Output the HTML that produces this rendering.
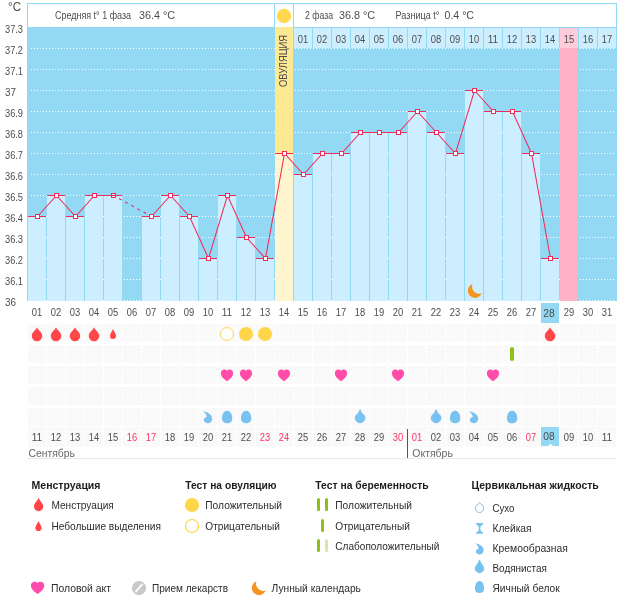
<!DOCTYPE html>
<html><head><meta charset="utf-8"><title>chart</title>
<style>
html,body{margin:0;padding:0;background:#fff;}
body{width:626px;height:595px;overflow:hidden;font-family:"Liberation Sans",sans-serif;}
svg{display:block;font-family:"Liberation Sans",sans-serif;will-change:transform;}
svg rect{shape-rendering:crispEdges;}
</style></head><body>
<svg width="626" height="595" viewBox="0 0 626 595">
<defs><pattern id="hatch" width="3" height="3" patternUnits="userSpaceOnUse"><rect width="3" height="3" fill="#fcfcfc"/><path d="M0,0 L3,3 M-1,2 L1,4 M2,-1 L4,1" stroke="#f4f4f4" stroke-width="1"/></pattern></defs>
<rect x="27" y="27" width="590" height="274" fill="#93d9f4" />
<rect x="27" y="3" width="248" height="25" fill="#93d9f4" />
<rect x="28" y="4" width="246" height="23" fill="#ffffff" />
<rect x="275" y="3" width="18" height="24" fill="#ffffff" />
<rect x="274" y="3" width="20" height="1" fill="#93d9f4" />
<rect x="293" y="3" width="324" height="25" fill="#93d9f4" />
<rect x="294" y="4" width="322" height="23" fill="#ffffff" />
<circle cx="284" cy="16" r="7.2" fill="#ffd84d"/>
<text x="55" y="19" font-size="10" fill="#4d4d4d" text-anchor="start" font-weight="normal" textLength="76" lengthAdjust="spacingAndGlyphs" >Средняя t° 1 фаза</text>
<text x="139" y="19" font-size="11" fill="#4d4d4d" text-anchor="start" font-weight="normal" textLength="36" lengthAdjust="spacingAndGlyphs" >36.4 °C</text>
<text x="305" y="19" font-size="10" fill="#4d4d4d" text-anchor="start" font-weight="normal" textLength="28" lengthAdjust="spacingAndGlyphs" >2 фаза</text>
<text x="339" y="19" font-size="11" fill="#4d4d4d" text-anchor="start" font-weight="normal" textLength="36" lengthAdjust="spacingAndGlyphs" >36.8 °C</text>
<text x="395.5" y="19" font-size="10" fill="#4d4d4d" text-anchor="start" font-weight="normal" textLength="44" lengthAdjust="spacingAndGlyphs" >Разница t°</text>
<text x="444.5" y="19" font-size="11" fill="#4d4d4d" text-anchor="start" font-weight="normal" textLength="29.5" lengthAdjust="spacingAndGlyphs" >0.4 °C</text>
<text x="8" y="11" font-size="13" fill="#4d4d4d" text-anchor="start" font-weight="normal" textLength="13" lengthAdjust="spacingAndGlyphs" >°C</text>
<text x="5" y="33" font-size="10" fill="#4d4d4d" text-anchor="start" font-weight="normal" textLength="18" lengthAdjust="spacingAndGlyphs" >37.3</text>
<text x="5" y="54" font-size="10" fill="#4d4d4d" text-anchor="start" font-weight="normal" textLength="18" lengthAdjust="spacingAndGlyphs" >37.2</text>
<text x="5" y="75" font-size="10" fill="#4d4d4d" text-anchor="start" font-weight="normal" textLength="18" lengthAdjust="spacingAndGlyphs" >37.1</text>
<text x="5" y="96" font-size="10" fill="#4d4d4d" text-anchor="start" font-weight="normal" textLength="11" lengthAdjust="spacingAndGlyphs" >37</text>
<text x="5" y="117" font-size="10" fill="#4d4d4d" text-anchor="start" font-weight="normal" textLength="18" lengthAdjust="spacingAndGlyphs" >36.9</text>
<text x="5" y="138" font-size="10" fill="#4d4d4d" text-anchor="start" font-weight="normal" textLength="18" lengthAdjust="spacingAndGlyphs" >36.8</text>
<text x="5" y="159" font-size="10" fill="#4d4d4d" text-anchor="start" font-weight="normal" textLength="18" lengthAdjust="spacingAndGlyphs" >36.7</text>
<text x="5" y="180" font-size="10" fill="#4d4d4d" text-anchor="start" font-weight="normal" textLength="18" lengthAdjust="spacingAndGlyphs" >36.6</text>
<text x="5" y="201" font-size="10" fill="#4d4d4d" text-anchor="start" font-weight="normal" textLength="18" lengthAdjust="spacingAndGlyphs" >36.5</text>
<text x="5" y="222" font-size="10" fill="#4d4d4d" text-anchor="start" font-weight="normal" textLength="18" lengthAdjust="spacingAndGlyphs" >36.4</text>
<text x="5" y="243" font-size="10" fill="#4d4d4d" text-anchor="start" font-weight="normal" textLength="18" lengthAdjust="spacingAndGlyphs" >36.3</text>
<text x="5" y="264" font-size="10" fill="#4d4d4d" text-anchor="start" font-weight="normal" textLength="18" lengthAdjust="spacingAndGlyphs" >36.2</text>
<text x="5" y="285" font-size="10" fill="#4d4d4d" text-anchor="start" font-weight="normal" textLength="18" lengthAdjust="spacingAndGlyphs" >36.1</text>
<text x="5" y="306" font-size="10" fill="#4d4d4d" text-anchor="start" font-weight="normal" textLength="11" lengthAdjust="spacingAndGlyphs" >36</text>
<line x1="31" x2="616" y1="48.5" y2="48.5" stroke="#ffffff" stroke-width="1" stroke-dasharray="1 2"/>
<line x1="31" x2="616" y1="69.5" y2="69.5" stroke="#ffffff" stroke-width="1" stroke-dasharray="1 2"/>
<line x1="31" x2="616" y1="90.5" y2="90.5" stroke="#ffffff" stroke-width="1" stroke-dasharray="1 2"/>
<line x1="31" x2="616" y1="111.5" y2="111.5" stroke="#ffffff" stroke-width="1" stroke-dasharray="1 2"/>
<line x1="31" x2="616" y1="132.5" y2="132.5" stroke="#ffffff" stroke-width="1" stroke-dasharray="1 2"/>
<line x1="31" x2="616" y1="153.5" y2="153.5" stroke="#ffffff" stroke-width="1" stroke-dasharray="1 2"/>
<line x1="31" x2="616" y1="174.5" y2="174.5" stroke="#ffffff" stroke-width="1" stroke-dasharray="1 2"/>
<line x1="31" x2="616" y1="195.5" y2="195.5" stroke="#ffffff" stroke-width="1" stroke-dasharray="1 2"/>
<line x1="31" x2="616" y1="216.5" y2="216.5" stroke="#ffffff" stroke-width="1" stroke-dasharray="1 2"/>
<line x1="31" x2="616" y1="237.5" y2="237.5" stroke="#ffffff" stroke-width="1" stroke-dasharray="1 2"/>
<line x1="31" x2="616" y1="258.5" y2="258.5" stroke="#ffffff" stroke-width="1" stroke-dasharray="1 2"/>
<line x1="31" x2="616" y1="279.5" y2="279.5" stroke="#ffffff" stroke-width="1" stroke-dasharray="1 2"/>
<line x1="31" x2="616" y1="300.5" y2="300.5" stroke="#ffffff" stroke-width="1" stroke-dasharray="1 2"/>
<rect x="275" y="27" width="18" height="274" fill="#fee993" />
<rect x="560" y="48" width="18" height="253" fill="#ffb1c8" />
<rect x="28" y="217" width="18" height="84" fill="#cdeefe" />
<rect x="47" y="196" width="18" height="105" fill="#cdeefe" />
<rect x="66" y="217" width="18" height="84" fill="#cdeefe" />
<rect x="85" y="196" width="18" height="105" fill="#cdeefe" />
<rect x="104" y="196" width="18" height="105" fill="#cdeefe" />
<rect x="142" y="217" width="18" height="84" fill="#cdeefe" />
<rect x="161" y="196" width="18" height="105" fill="#cdeefe" />
<rect x="180" y="217" width="18" height="84" fill="#cdeefe" />
<rect x="199" y="259" width="18" height="42" fill="#cdeefe" />
<rect x="218" y="196" width="18" height="105" fill="#cdeefe" />
<rect x="237" y="238" width="18" height="63" fill="#cdeefe" />
<rect x="256" y="259" width="18" height="42" fill="#cdeefe" />
<rect x="275" y="154" width="18" height="147" fill="#fff6cf" />
<rect x="294" y="175" width="18" height="126" fill="#cdeefe" />
<rect x="313" y="154" width="18" height="147" fill="#cdeefe" />
<rect x="332" y="154" width="18" height="147" fill="#cdeefe" />
<rect x="351" y="133" width="18" height="168" fill="#cdeefe" />
<rect x="370" y="133" width="18" height="168" fill="#cdeefe" />
<rect x="389" y="133" width="18" height="168" fill="#cdeefe" />
<rect x="408" y="112" width="18" height="189" fill="#cdeefe" />
<rect x="427" y="133" width="18" height="168" fill="#cdeefe" />
<rect x="446" y="154" width="18" height="147" fill="#cdeefe" />
<rect x="465" y="91" width="18" height="210" fill="#cdeefe" />
<rect x="484" y="112" width="18" height="189" fill="#cdeefe" />
<rect x="503" y="112" width="18" height="189" fill="#cdeefe" />
<rect x="522" y="154" width="18" height="147" fill="#cdeefe" />
<rect x="541" y="259" width="18" height="42" fill="#cdeefe" />
<rect x="294" y="28" width="18" height="20" fill="#cdeefe" />
<text x="303" y="43" font-size="10" fill="#4d4d4d" text-anchor="middle" font-weight="normal" textLength="10.4" lengthAdjust="spacingAndGlyphs" >01</text>
<rect x="313" y="28" width="18" height="20" fill="#cdeefe" />
<text x="322" y="43" font-size="10" fill="#4d4d4d" text-anchor="middle" font-weight="normal" textLength="10.4" lengthAdjust="spacingAndGlyphs" >02</text>
<rect x="332" y="28" width="18" height="20" fill="#cdeefe" />
<text x="341" y="43" font-size="10" fill="#4d4d4d" text-anchor="middle" font-weight="normal" textLength="10.4" lengthAdjust="spacingAndGlyphs" >03</text>
<rect x="351" y="28" width="18" height="20" fill="#cdeefe" />
<text x="360" y="43" font-size="10" fill="#4d4d4d" text-anchor="middle" font-weight="normal" textLength="10.4" lengthAdjust="spacingAndGlyphs" >04</text>
<rect x="370" y="28" width="18" height="20" fill="#cdeefe" />
<text x="379" y="43" font-size="10" fill="#4d4d4d" text-anchor="middle" font-weight="normal" textLength="10.4" lengthAdjust="spacingAndGlyphs" >05</text>
<rect x="389" y="28" width="18" height="20" fill="#cdeefe" />
<text x="398" y="43" font-size="10" fill="#4d4d4d" text-anchor="middle" font-weight="normal" textLength="10.4" lengthAdjust="spacingAndGlyphs" >06</text>
<rect x="408" y="28" width="18" height="20" fill="#cdeefe" />
<text x="417" y="43" font-size="10" fill="#4d4d4d" text-anchor="middle" font-weight="normal" textLength="10.4" lengthAdjust="spacingAndGlyphs" >07</text>
<rect x="427" y="28" width="18" height="20" fill="#cdeefe" />
<text x="436" y="43" font-size="10" fill="#4d4d4d" text-anchor="middle" font-weight="normal" textLength="10.4" lengthAdjust="spacingAndGlyphs" >08</text>
<rect x="446" y="28" width="18" height="20" fill="#cdeefe" />
<text x="455" y="43" font-size="10" fill="#4d4d4d" text-anchor="middle" font-weight="normal" textLength="10.4" lengthAdjust="spacingAndGlyphs" >09</text>
<rect x="465" y="28" width="18" height="20" fill="#cdeefe" />
<text x="474" y="43" font-size="10" fill="#4d4d4d" text-anchor="middle" font-weight="normal" textLength="10.4" lengthAdjust="spacingAndGlyphs" >10</text>
<rect x="484" y="28" width="18" height="20" fill="#cdeefe" />
<text x="493" y="43" font-size="10" fill="#4d4d4d" text-anchor="middle" font-weight="normal" textLength="10.4" lengthAdjust="spacingAndGlyphs" >11</text>
<rect x="503" y="28" width="18" height="20" fill="#cdeefe" />
<text x="512" y="43" font-size="10" fill="#4d4d4d" text-anchor="middle" font-weight="normal" textLength="10.4" lengthAdjust="spacingAndGlyphs" >12</text>
<rect x="522" y="28" width="18" height="20" fill="#cdeefe" />
<text x="531" y="43" font-size="10" fill="#4d4d4d" text-anchor="middle" font-weight="normal" textLength="10.4" lengthAdjust="spacingAndGlyphs" >13</text>
<rect x="541" y="28" width="18" height="20" fill="#cdeefe" />
<text x="550" y="43" font-size="10" fill="#4d4d4d" text-anchor="middle" font-weight="normal" textLength="10.4" lengthAdjust="spacingAndGlyphs" >14</text>
<rect x="560" y="28" width="18" height="20" fill="#ffccdc" />
<text x="569" y="43" font-size="10" fill="#4d4d4d" text-anchor="middle" font-weight="normal" textLength="10.4" lengthAdjust="spacingAndGlyphs" >15</text>
<rect x="579" y="28" width="18" height="20" fill="#cdeefe" />
<text x="588" y="43" font-size="10" fill="#4d4d4d" text-anchor="middle" font-weight="normal" textLength="10.4" lengthAdjust="spacingAndGlyphs" >16</text>
<rect x="598" y="28" width="18" height="20" fill="#cdeefe" />
<text x="607" y="43" font-size="10" fill="#4d4d4d" text-anchor="middle" font-weight="normal" textLength="10.4" lengthAdjust="spacingAndGlyphs" >17</text>
<line x1="31" x2="616" y1="48.5" y2="48.5" stroke="#ffffff" stroke-width="1" stroke-dasharray="1 2"/>
<line x1="31" x2="616" y1="69.5" y2="69.5" stroke="#ffffff" stroke-width="1" stroke-dasharray="1 2" opacity="0"/>
<line x1="31" x2="616" y1="90.5" y2="90.5" stroke="#ffffff" stroke-width="1" stroke-dasharray="1 2" opacity="0"/>
<line x1="31" x2="616" y1="111.5" y2="111.5" stroke="#ffffff" stroke-width="1" stroke-dasharray="1 2" opacity="0"/>
<line x1="31" x2="616" y1="132.5" y2="132.5" stroke="#ffffff" stroke-width="1" stroke-dasharray="1 2" opacity="0"/>
<line x1="31" x2="616" y1="153.5" y2="153.5" stroke="#ffffff" stroke-width="1" stroke-dasharray="1 2" opacity="0"/>
<line x1="31" x2="616" y1="174.5" y2="174.5" stroke="#ffffff" stroke-width="1" stroke-dasharray="1 2" opacity="0"/>
<line x1="31" x2="616" y1="195.5" y2="195.5" stroke="#ffffff" stroke-width="1" stroke-dasharray="1 2" opacity="0"/>
<line x1="31" x2="616" y1="216.5" y2="216.5" stroke="#ffffff" stroke-width="1" stroke-dasharray="1 2" opacity="0"/>
<line x1="31" x2="616" y1="237.5" y2="237.5" stroke="#ffffff" stroke-width="1" stroke-dasharray="1 2" opacity="0"/>
<line x1="31" x2="616" y1="258.5" y2="258.5" stroke="#ffffff" stroke-width="1" stroke-dasharray="1 2" opacity="0"/>
<line x1="31" x2="616" y1="279.5" y2="279.5" stroke="#ffffff" stroke-width="1" stroke-dasharray="1 2" opacity="0"/>
<line x1="31" x2="616" y1="300.5" y2="300.5" stroke="#ffffff" stroke-width="1" stroke-dasharray="1 2" opacity="0"/>
<rect x="275" y="28" width="18" height="273" fill="#fee993" />
<rect x="275" y="154" width="18" height="147" fill="#fff6cf" />
<rect x="560" y="48" width="18" height="253" fill="#ffb1c8" />
<text transform="translate(287,87) rotate(-90)" font-size="10" fill="#4d4d4d" textLength="52" lengthAdjust="spacingAndGlyphs">ОВУЛЯЦИЯ</text>
<rect x="28" y="216" width="18" height="1" fill="#f02d5a" />
<rect x="47" y="195" width="18" height="1" fill="#f02d5a" />
<rect x="66" y="216" width="18" height="1" fill="#f02d5a" />
<rect x="85" y="195" width="18" height="1" fill="#f02d5a" />
<rect x="104" y="195" width="18" height="1" fill="#f02d5a" />
<rect x="142" y="216" width="18" height="1" fill="#f02d5a" />
<rect x="161" y="195" width="18" height="1" fill="#f02d5a" />
<rect x="180" y="216" width="18" height="1" fill="#f02d5a" />
<rect x="199" y="258" width="18" height="1" fill="#f02d5a" />
<rect x="218" y="195" width="18" height="1" fill="#f02d5a" />
<rect x="237" y="237" width="18" height="1" fill="#f02d5a" />
<rect x="256" y="258" width="18" height="1" fill="#f02d5a" />
<rect x="275" y="153" width="18" height="1" fill="#f02d5a" />
<rect x="294" y="174" width="18" height="1" fill="#f02d5a" />
<rect x="313" y="153" width="18" height="1" fill="#f02d5a" />
<rect x="332" y="153" width="18" height="1" fill="#f02d5a" />
<rect x="351" y="132" width="18" height="1" fill="#f02d5a" />
<rect x="370" y="132" width="18" height="1" fill="#f02d5a" />
<rect x="389" y="132" width="18" height="1" fill="#f02d5a" />
<rect x="408" y="111" width="18" height="1" fill="#f02d5a" />
<rect x="427" y="132" width="18" height="1" fill="#f02d5a" />
<rect x="446" y="153" width="18" height="1" fill="#f02d5a" />
<rect x="465" y="90" width="18" height="1" fill="#f02d5a" />
<rect x="484" y="111" width="18" height="1" fill="#f02d5a" />
<rect x="503" y="111" width="18" height="1" fill="#f02d5a" />
<rect x="522" y="153" width="18" height="1" fill="#f02d5a" />
<rect x="541" y="258" width="18" height="1" fill="#f02d5a" />
<polyline fill="none" stroke="#f02d5a" stroke-width="1.05" points="37.5,216.5 56.5,195.5 75.5,216.5 94.5,195.5 113.5,195.5"/>
<polyline fill="none" stroke="#f02d5a" stroke-width="1.05" points="151.5,216.5 170.5,195.5 189.5,216.5 208.5,258.5 227.5,195.5 246.5,237.5 265.5,258.5 284.5,153.5 303.5,174.5 322.5,153.5 341.5,153.5 360.5,132.5 379.5,132.5 398.5,132.5 417.5,111.5 436.5,132.5 455.5,153.5 474.5,90.5 493.5,111.5 512.5,111.5 531.5,153.5 550.5,258.5"/>
<line x1="113.5" y1="195.5" x2="151.5" y2="216.5" stroke="#f02d5a" stroke-width="1.1" stroke-dasharray="3 4" stroke-dashoffset="0.7"/>
<rect x="35.5" y="214.5" width="4" height="4" fill="#fff" stroke="#f02d5a" stroke-width="1"/>
<rect x="54.5" y="193.5" width="4" height="4" fill="#fff" stroke="#f02d5a" stroke-width="1"/>
<rect x="73.5" y="214.5" width="4" height="4" fill="#fff" stroke="#f02d5a" stroke-width="1"/>
<rect x="92.5" y="193.5" width="4" height="4" fill="#fff" stroke="#f02d5a" stroke-width="1"/>
<rect x="111.5" y="193.5" width="4" height="4" fill="#d4effc" stroke="#f02d5a" stroke-width="1"/>
<rect x="112" y="195" width="3" height="1" fill="#f02d5a" />
<rect x="149.5" y="214.5" width="4" height="4" fill="#fff" stroke="#f02d5a" stroke-width="1"/>
<rect x="168.5" y="193.5" width="4" height="4" fill="#fff" stroke="#f02d5a" stroke-width="1"/>
<rect x="187.5" y="214.5" width="4" height="4" fill="#fff" stroke="#f02d5a" stroke-width="1"/>
<rect x="206.5" y="256.5" width="4" height="4" fill="#fff" stroke="#f02d5a" stroke-width="1"/>
<rect x="225.5" y="193.5" width="4" height="4" fill="#fff" stroke="#f02d5a" stroke-width="1"/>
<rect x="244.5" y="235.5" width="4" height="4" fill="#fff" stroke="#f02d5a" stroke-width="1"/>
<rect x="263.5" y="256.5" width="4" height="4" fill="#fff" stroke="#f02d5a" stroke-width="1"/>
<rect x="282.5" y="151.5" width="4" height="4" fill="#fff" stroke="#f02d5a" stroke-width="1"/>
<rect x="301.5" y="172.5" width="4" height="4" fill="#fff" stroke="#f02d5a" stroke-width="1"/>
<rect x="320.5" y="151.5" width="4" height="4" fill="#fff" stroke="#f02d5a" stroke-width="1"/>
<rect x="339.5" y="151.5" width="4" height="4" fill="#fff" stroke="#f02d5a" stroke-width="1"/>
<rect x="358.5" y="130.5" width="4" height="4" fill="#fff" stroke="#f02d5a" stroke-width="1"/>
<rect x="377.5" y="130.5" width="4" height="4" fill="#fff" stroke="#f02d5a" stroke-width="1"/>
<rect x="396.5" y="130.5" width="4" height="4" fill="#fff" stroke="#f02d5a" stroke-width="1"/>
<rect x="415.5" y="109.5" width="4" height="4" fill="#fff" stroke="#f02d5a" stroke-width="1"/>
<rect x="434.5" y="130.5" width="4" height="4" fill="#fff" stroke="#f02d5a" stroke-width="1"/>
<rect x="453.5" y="151.5" width="4" height="4" fill="#fff" stroke="#f02d5a" stroke-width="1"/>
<rect x="472.5" y="88.5" width="4" height="4" fill="#fff" stroke="#f02d5a" stroke-width="1"/>
<rect x="491.5" y="109.5" width="4" height="4" fill="#fff" stroke="#f02d5a" stroke-width="1"/>
<rect x="510.5" y="109.5" width="4" height="4" fill="#fff" stroke="#f02d5a" stroke-width="1"/>
<rect x="529.5" y="151.5" width="4" height="4" fill="#fff" stroke="#f02d5a" stroke-width="1"/>
<rect x="548.5" y="256.5" width="4" height="4" fill="#fff" stroke="#f02d5a" stroke-width="1"/>
<path transform="translate(475.05,290.75)" d="M-2.43,-6.72 A7.15,7.15 0 1 0 6.72,2.43 A7.01,7.01 0 0 1 -2.43,-6.72 Z" fill="#f7941d"/>
<text x="37" y="316" font-size="10" fill="#4d4d4d" text-anchor="middle" font-weight="normal" textLength="10.4" lengthAdjust="spacingAndGlyphs" >01</text>
<text x="56" y="316" font-size="10" fill="#4d4d4d" text-anchor="middle" font-weight="normal" textLength="10.4" lengthAdjust="spacingAndGlyphs" >02</text>
<text x="75" y="316" font-size="10" fill="#4d4d4d" text-anchor="middle" font-weight="normal" textLength="10.4" lengthAdjust="spacingAndGlyphs" >03</text>
<text x="94" y="316" font-size="10" fill="#4d4d4d" text-anchor="middle" font-weight="normal" textLength="10.4" lengthAdjust="spacingAndGlyphs" >04</text>
<text x="113" y="316" font-size="10" fill="#4d4d4d" text-anchor="middle" font-weight="normal" textLength="10.4" lengthAdjust="spacingAndGlyphs" >05</text>
<text x="132" y="316" font-size="10" fill="#4d4d4d" text-anchor="middle" font-weight="normal" textLength="10.4" lengthAdjust="spacingAndGlyphs" >06</text>
<text x="151" y="316" font-size="10" fill="#4d4d4d" text-anchor="middle" font-weight="normal" textLength="10.4" lengthAdjust="spacingAndGlyphs" >07</text>
<text x="170" y="316" font-size="10" fill="#4d4d4d" text-anchor="middle" font-weight="normal" textLength="10.4" lengthAdjust="spacingAndGlyphs" >08</text>
<text x="189" y="316" font-size="10" fill="#4d4d4d" text-anchor="middle" font-weight="normal" textLength="10.4" lengthAdjust="spacingAndGlyphs" >09</text>
<text x="208" y="316" font-size="10" fill="#4d4d4d" text-anchor="middle" font-weight="normal" textLength="10.4" lengthAdjust="spacingAndGlyphs" >10</text>
<text x="227" y="316" font-size="10" fill="#4d4d4d" text-anchor="middle" font-weight="normal" textLength="10.4" lengthAdjust="spacingAndGlyphs" >11</text>
<text x="246" y="316" font-size="10" fill="#4d4d4d" text-anchor="middle" font-weight="normal" textLength="10.4" lengthAdjust="spacingAndGlyphs" >12</text>
<text x="265" y="316" font-size="10" fill="#4d4d4d" text-anchor="middle" font-weight="normal" textLength="10.4" lengthAdjust="spacingAndGlyphs" >13</text>
<text x="284" y="316" font-size="10" fill="#4d4d4d" text-anchor="middle" font-weight="normal" textLength="10.4" lengthAdjust="spacingAndGlyphs" >14</text>
<text x="303" y="316" font-size="10" fill="#4d4d4d" text-anchor="middle" font-weight="normal" textLength="10.4" lengthAdjust="spacingAndGlyphs" >15</text>
<text x="322" y="316" font-size="10" fill="#4d4d4d" text-anchor="middle" font-weight="normal" textLength="10.4" lengthAdjust="spacingAndGlyphs" >16</text>
<text x="341" y="316" font-size="10" fill="#4d4d4d" text-anchor="middle" font-weight="normal" textLength="10.4" lengthAdjust="spacingAndGlyphs" >17</text>
<text x="360" y="316" font-size="10" fill="#4d4d4d" text-anchor="middle" font-weight="normal" textLength="10.4" lengthAdjust="spacingAndGlyphs" >18</text>
<text x="379" y="316" font-size="10" fill="#4d4d4d" text-anchor="middle" font-weight="normal" textLength="10.4" lengthAdjust="spacingAndGlyphs" >19</text>
<text x="398" y="316" font-size="10" fill="#4d4d4d" text-anchor="middle" font-weight="normal" textLength="10.4" lengthAdjust="spacingAndGlyphs" >20</text>
<text x="417" y="316" font-size="10" fill="#4d4d4d" text-anchor="middle" font-weight="normal" textLength="10.4" lengthAdjust="spacingAndGlyphs" >21</text>
<text x="436" y="316" font-size="10" fill="#4d4d4d" text-anchor="middle" font-weight="normal" textLength="10.4" lengthAdjust="spacingAndGlyphs" >22</text>
<text x="455" y="316" font-size="10" fill="#4d4d4d" text-anchor="middle" font-weight="normal" textLength="10.4" lengthAdjust="spacingAndGlyphs" >23</text>
<text x="474" y="316" font-size="10" fill="#4d4d4d" text-anchor="middle" font-weight="normal" textLength="10.4" lengthAdjust="spacingAndGlyphs" >24</text>
<text x="493" y="316" font-size="10" fill="#4d4d4d" text-anchor="middle" font-weight="normal" textLength="10.4" lengthAdjust="spacingAndGlyphs" >25</text>
<text x="512" y="316" font-size="10" fill="#4d4d4d" text-anchor="middle" font-weight="normal" textLength="10.4" lengthAdjust="spacingAndGlyphs" >26</text>
<text x="531" y="316" font-size="10" fill="#4d4d4d" text-anchor="middle" font-weight="normal" textLength="10.4" lengthAdjust="spacingAndGlyphs" >27</text>
<rect x="541" y="303" width="18" height="20" fill="#93d9f4" />
<text x="549" y="317" font-size="11" fill="#4d4d4d" text-anchor="middle" font-weight="normal" textLength="11.4" lengthAdjust="spacingAndGlyphs" >28</text>
<text x="569" y="316" font-size="10" fill="#4d4d4d" text-anchor="middle" font-weight="normal" textLength="10.4" lengthAdjust="spacingAndGlyphs" >29</text>
<text x="588" y="316" font-size="10" fill="#4d4d4d" text-anchor="middle" font-weight="normal" textLength="10.4" lengthAdjust="spacingAndGlyphs" >30</text>
<text x="607" y="316" font-size="10" fill="#4d4d4d" text-anchor="middle" font-weight="normal" textLength="10.4" lengthAdjust="spacingAndGlyphs" >31</text>
<rect x="28" y="324" width="18" height="18" fill="url(#hatch)" />
<rect x="47" y="324" width="18" height="18" fill="url(#hatch)" />
<rect x="66" y="324" width="18" height="18" fill="url(#hatch)" />
<rect x="85" y="324" width="18" height="18" fill="url(#hatch)" />
<rect x="104" y="324" width="18" height="18" fill="url(#hatch)" />
<rect x="123" y="324" width="18" height="18" fill="url(#hatch)" />
<rect x="142" y="324" width="18" height="18" fill="url(#hatch)" />
<rect x="161" y="324" width="18" height="18" fill="url(#hatch)" />
<rect x="180" y="324" width="18" height="18" fill="url(#hatch)" />
<rect x="199" y="324" width="18" height="18" fill="url(#hatch)" />
<rect x="218" y="324" width="18" height="18" fill="url(#hatch)" />
<rect x="237" y="324" width="18" height="18" fill="url(#hatch)" />
<rect x="256" y="324" width="18" height="18" fill="url(#hatch)" />
<rect x="275" y="324" width="18" height="18" fill="url(#hatch)" />
<rect x="294" y="324" width="18" height="18" fill="url(#hatch)" />
<rect x="313" y="324" width="18" height="18" fill="url(#hatch)" />
<rect x="332" y="324" width="18" height="18" fill="url(#hatch)" />
<rect x="351" y="324" width="18" height="18" fill="url(#hatch)" />
<rect x="370" y="324" width="18" height="18" fill="url(#hatch)" />
<rect x="389" y="324" width="18" height="18" fill="url(#hatch)" />
<rect x="408" y="324" width="18" height="18" fill="url(#hatch)" />
<rect x="427" y="324" width="18" height="18" fill="url(#hatch)" />
<rect x="446" y="324" width="18" height="18" fill="url(#hatch)" />
<rect x="465" y="324" width="18" height="18" fill="url(#hatch)" />
<rect x="484" y="324" width="18" height="18" fill="url(#hatch)" />
<rect x="503" y="324" width="18" height="18" fill="url(#hatch)" />
<rect x="522" y="324" width="18" height="18" fill="url(#hatch)" />
<rect x="541" y="324" width="18" height="18" fill="url(#hatch)" />
<rect x="560" y="324" width="18" height="18" fill="url(#hatch)" />
<rect x="579" y="324" width="18" height="18" fill="url(#hatch)" />
<rect x="598" y="324" width="18" height="18" fill="url(#hatch)" />
<rect x="28" y="345" width="18" height="18" fill="url(#hatch)" />
<rect x="47" y="345" width="18" height="18" fill="url(#hatch)" />
<rect x="66" y="345" width="18" height="18" fill="url(#hatch)" />
<rect x="85" y="345" width="18" height="18" fill="url(#hatch)" />
<rect x="104" y="345" width="18" height="18" fill="url(#hatch)" />
<rect x="123" y="345" width="18" height="18" fill="url(#hatch)" />
<rect x="142" y="345" width="18" height="18" fill="url(#hatch)" />
<rect x="161" y="345" width="18" height="18" fill="url(#hatch)" />
<rect x="180" y="345" width="18" height="18" fill="url(#hatch)" />
<rect x="199" y="345" width="18" height="18" fill="url(#hatch)" />
<rect x="218" y="345" width="18" height="18" fill="url(#hatch)" />
<rect x="237" y="345" width="18" height="18" fill="url(#hatch)" />
<rect x="256" y="345" width="18" height="18" fill="url(#hatch)" />
<rect x="275" y="345" width="18" height="18" fill="url(#hatch)" />
<rect x="294" y="345" width="18" height="18" fill="url(#hatch)" />
<rect x="313" y="345" width="18" height="18" fill="url(#hatch)" />
<rect x="332" y="345" width="18" height="18" fill="url(#hatch)" />
<rect x="351" y="345" width="18" height="18" fill="url(#hatch)" />
<rect x="370" y="345" width="18" height="18" fill="url(#hatch)" />
<rect x="389" y="345" width="18" height="18" fill="url(#hatch)" />
<rect x="408" y="345" width="18" height="18" fill="url(#hatch)" />
<rect x="427" y="345" width="18" height="18" fill="url(#hatch)" />
<rect x="446" y="345" width="18" height="18" fill="url(#hatch)" />
<rect x="465" y="345" width="18" height="18" fill="url(#hatch)" />
<rect x="484" y="345" width="18" height="18" fill="url(#hatch)" />
<rect x="503" y="345" width="18" height="18" fill="url(#hatch)" />
<rect x="522" y="345" width="18" height="18" fill="url(#hatch)" />
<rect x="541" y="345" width="18" height="18" fill="url(#hatch)" />
<rect x="560" y="345" width="18" height="18" fill="url(#hatch)" />
<rect x="579" y="345" width="18" height="18" fill="url(#hatch)" />
<rect x="598" y="345" width="18" height="18" fill="url(#hatch)" />
<rect x="28" y="366" width="18" height="18" fill="url(#hatch)" />
<rect x="47" y="366" width="18" height="18" fill="url(#hatch)" />
<rect x="66" y="366" width="18" height="18" fill="url(#hatch)" />
<rect x="85" y="366" width="18" height="18" fill="url(#hatch)" />
<rect x="104" y="366" width="18" height="18" fill="url(#hatch)" />
<rect x="123" y="366" width="18" height="18" fill="url(#hatch)" />
<rect x="142" y="366" width="18" height="18" fill="url(#hatch)" />
<rect x="161" y="366" width="18" height="18" fill="url(#hatch)" />
<rect x="180" y="366" width="18" height="18" fill="url(#hatch)" />
<rect x="199" y="366" width="18" height="18" fill="url(#hatch)" />
<rect x="218" y="366" width="18" height="18" fill="url(#hatch)" />
<rect x="237" y="366" width="18" height="18" fill="url(#hatch)" />
<rect x="256" y="366" width="18" height="18" fill="url(#hatch)" />
<rect x="275" y="366" width="18" height="18" fill="url(#hatch)" />
<rect x="294" y="366" width="18" height="18" fill="url(#hatch)" />
<rect x="313" y="366" width="18" height="18" fill="url(#hatch)" />
<rect x="332" y="366" width="18" height="18" fill="url(#hatch)" />
<rect x="351" y="366" width="18" height="18" fill="url(#hatch)" />
<rect x="370" y="366" width="18" height="18" fill="url(#hatch)" />
<rect x="389" y="366" width="18" height="18" fill="url(#hatch)" />
<rect x="408" y="366" width="18" height="18" fill="url(#hatch)" />
<rect x="427" y="366" width="18" height="18" fill="url(#hatch)" />
<rect x="446" y="366" width="18" height="18" fill="url(#hatch)" />
<rect x="465" y="366" width="18" height="18" fill="url(#hatch)" />
<rect x="484" y="366" width="18" height="18" fill="url(#hatch)" />
<rect x="503" y="366" width="18" height="18" fill="url(#hatch)" />
<rect x="522" y="366" width="18" height="18" fill="url(#hatch)" />
<rect x="541" y="366" width="18" height="18" fill="url(#hatch)" />
<rect x="560" y="366" width="18" height="18" fill="url(#hatch)" />
<rect x="579" y="366" width="18" height="18" fill="url(#hatch)" />
<rect x="598" y="366" width="18" height="18" fill="url(#hatch)" />
<rect x="28" y="387" width="18" height="18" fill="url(#hatch)" />
<rect x="47" y="387" width="18" height="18" fill="url(#hatch)" />
<rect x="66" y="387" width="18" height="18" fill="url(#hatch)" />
<rect x="85" y="387" width="18" height="18" fill="url(#hatch)" />
<rect x="104" y="387" width="18" height="18" fill="url(#hatch)" />
<rect x="123" y="387" width="18" height="18" fill="url(#hatch)" />
<rect x="142" y="387" width="18" height="18" fill="url(#hatch)" />
<rect x="161" y="387" width="18" height="18" fill="url(#hatch)" />
<rect x="180" y="387" width="18" height="18" fill="url(#hatch)" />
<rect x="199" y="387" width="18" height="18" fill="url(#hatch)" />
<rect x="218" y="387" width="18" height="18" fill="url(#hatch)" />
<rect x="237" y="387" width="18" height="18" fill="url(#hatch)" />
<rect x="256" y="387" width="18" height="18" fill="url(#hatch)" />
<rect x="275" y="387" width="18" height="18" fill="url(#hatch)" />
<rect x="294" y="387" width="18" height="18" fill="url(#hatch)" />
<rect x="313" y="387" width="18" height="18" fill="url(#hatch)" />
<rect x="332" y="387" width="18" height="18" fill="url(#hatch)" />
<rect x="351" y="387" width="18" height="18" fill="url(#hatch)" />
<rect x="370" y="387" width="18" height="18" fill="url(#hatch)" />
<rect x="389" y="387" width="18" height="18" fill="url(#hatch)" />
<rect x="408" y="387" width="18" height="18" fill="url(#hatch)" />
<rect x="427" y="387" width="18" height="18" fill="url(#hatch)" />
<rect x="446" y="387" width="18" height="18" fill="url(#hatch)" />
<rect x="465" y="387" width="18" height="18" fill="url(#hatch)" />
<rect x="484" y="387" width="18" height="18" fill="url(#hatch)" />
<rect x="503" y="387" width="18" height="18" fill="url(#hatch)" />
<rect x="522" y="387" width="18" height="18" fill="url(#hatch)" />
<rect x="541" y="387" width="18" height="18" fill="url(#hatch)" />
<rect x="560" y="387" width="18" height="18" fill="url(#hatch)" />
<rect x="579" y="387" width="18" height="18" fill="url(#hatch)" />
<rect x="598" y="387" width="18" height="18" fill="url(#hatch)" />
<rect x="28" y="408" width="18" height="18" fill="url(#hatch)" />
<rect x="47" y="408" width="18" height="18" fill="url(#hatch)" />
<rect x="66" y="408" width="18" height="18" fill="url(#hatch)" />
<rect x="85" y="408" width="18" height="18" fill="url(#hatch)" />
<rect x="104" y="408" width="18" height="18" fill="url(#hatch)" />
<rect x="123" y="408" width="18" height="18" fill="url(#hatch)" />
<rect x="142" y="408" width="18" height="18" fill="url(#hatch)" />
<rect x="161" y="408" width="18" height="18" fill="url(#hatch)" />
<rect x="180" y="408" width="18" height="18" fill="url(#hatch)" />
<rect x="199" y="408" width="18" height="18" fill="url(#hatch)" />
<rect x="218" y="408" width="18" height="18" fill="url(#hatch)" />
<rect x="237" y="408" width="18" height="18" fill="url(#hatch)" />
<rect x="256" y="408" width="18" height="18" fill="url(#hatch)" />
<rect x="275" y="408" width="18" height="18" fill="url(#hatch)" />
<rect x="294" y="408" width="18" height="18" fill="url(#hatch)" />
<rect x="313" y="408" width="18" height="18" fill="url(#hatch)" />
<rect x="332" y="408" width="18" height="18" fill="url(#hatch)" />
<rect x="351" y="408" width="18" height="18" fill="url(#hatch)" />
<rect x="370" y="408" width="18" height="18" fill="url(#hatch)" />
<rect x="389" y="408" width="18" height="18" fill="url(#hatch)" />
<rect x="408" y="408" width="18" height="18" fill="url(#hatch)" />
<rect x="427" y="408" width="18" height="18" fill="url(#hatch)" />
<rect x="446" y="408" width="18" height="18" fill="url(#hatch)" />
<rect x="465" y="408" width="18" height="18" fill="url(#hatch)" />
<rect x="484" y="408" width="18" height="18" fill="url(#hatch)" />
<rect x="503" y="408" width="18" height="18" fill="url(#hatch)" />
<rect x="522" y="408" width="18" height="18" fill="url(#hatch)" />
<rect x="541" y="408" width="18" height="18" fill="url(#hatch)" />
<rect x="560" y="408" width="18" height="18" fill="url(#hatch)" />
<rect x="579" y="408" width="18" height="18" fill="url(#hatch)" />
<rect x="598" y="408" width="18" height="18" fill="url(#hatch)" />
<rect x="28" y="427" width="18" height="20" fill="url(#hatch)" />
<rect x="47" y="427" width="18" height="20" fill="url(#hatch)" />
<rect x="66" y="427" width="18" height="20" fill="url(#hatch)" />
<rect x="85" y="427" width="18" height="20" fill="url(#hatch)" />
<rect x="104" y="427" width="18" height="20" fill="url(#hatch)" />
<rect x="123" y="427" width="18" height="20" fill="url(#hatch)" />
<rect x="142" y="427" width="18" height="20" fill="url(#hatch)" />
<rect x="161" y="427" width="18" height="20" fill="url(#hatch)" />
<rect x="180" y="427" width="18" height="20" fill="url(#hatch)" />
<rect x="199" y="427" width="18" height="20" fill="url(#hatch)" />
<rect x="218" y="427" width="18" height="20" fill="url(#hatch)" />
<rect x="237" y="427" width="18" height="20" fill="url(#hatch)" />
<rect x="256" y="427" width="18" height="20" fill="url(#hatch)" />
<rect x="275" y="427" width="18" height="20" fill="url(#hatch)" />
<rect x="294" y="427" width="18" height="20" fill="url(#hatch)" />
<rect x="313" y="427" width="18" height="20" fill="url(#hatch)" />
<rect x="332" y="427" width="18" height="20" fill="url(#hatch)" />
<rect x="351" y="427" width="18" height="20" fill="url(#hatch)" />
<rect x="370" y="427" width="18" height="20" fill="url(#hatch)" />
<rect x="389" y="427" width="18" height="20" fill="url(#hatch)" />
<rect x="408" y="427" width="18" height="20" fill="url(#hatch)" />
<rect x="427" y="427" width="18" height="20" fill="url(#hatch)" />
<rect x="446" y="427" width="18" height="20" fill="url(#hatch)" />
<rect x="465" y="427" width="18" height="20" fill="url(#hatch)" />
<rect x="484" y="427" width="18" height="20" fill="url(#hatch)" />
<rect x="503" y="427" width="18" height="20" fill="url(#hatch)" />
<rect x="522" y="427" width="18" height="20" fill="url(#hatch)" />
<rect x="541" y="427" width="18" height="20" fill="url(#hatch)" />
<rect x="560" y="427" width="18" height="20" fill="url(#hatch)" />
<rect x="579" y="427" width="18" height="20" fill="url(#hatch)" />
<rect x="598" y="427" width="18" height="20" fill="url(#hatch)" />
<path d="M37,327.25 C37.9,330.308 42.2,332.05 42.2,335.95 A5.2,5.2 0 1 1 31.8,335.95 C31.8,332.05 36.1,330.308 37,327.25 Z" fill="#ff4648"/>
<path d="M56,327.25 C56.9,330.308 61.2,332.05 61.2,335.95 A5.2,5.2 0 1 1 50.8,335.95 C50.8,332.05 55.1,330.308 56,327.25 Z" fill="#ff4648"/>
<path d="M75,327.25 C75.9,330.308 80.2,332.05 80.2,335.95 A5.2,5.2 0 1 1 69.8,335.95 C69.8,332.05 74.1,330.308 75,327.25 Z" fill="#ff4648"/>
<path d="M94,327.25 C94.9,330.308 99.2,332.05 99.2,335.95 A5.2,5.2 0 1 1 88.8,335.95 C88.8,332.05 93.1,330.308 94,327.25 Z" fill="#ff4648"/>
<path d="M113,329.0 C113.9,331.2 116.0,333.75 116.0,336.0 A3.0,3.0 0 1 1 110.0,336.0 C110.0,333.75 112.1,331.2 113,329.0 Z" fill="#ff4648"/>
<path d="M550,327.25 C550.9,330.308 555.2,332.05 555.2,335.95 A5.2,5.2 0 1 1 544.8,335.95 C544.8,332.05 549.1,330.308 550,327.25 Z" fill="#ff4648"/>
<circle cx="227" cy="334" r="6.4" fill="#fff" stroke="#ffd54a" stroke-width="1"/>
<circle cx="246" cy="334" r="7" fill="#ffd54a"/>
<circle cx="265" cy="334" r="7" fill="#ffd54a"/>
<rect x="510" y="347" width="4" height="14" fill="#8dc014" rx="2" ry="2" style="shape-rendering:auto"/>
<path transform="translate(220.9,369.6) scale(1.0166666666666666,1.0454545454545454)" d="M5.3,10.7 C4.4,10 0,7.2 0,3.5 C0,1.4 1.5,0 3.3,0 C4.5,0 5.4,0.5 6,1.3 C6.6,0.5 7.5,0 8.7,0 C10.5,0 12,1.4 12,3.5 C12,7.2 7.6,10 6.7,10.7 Q6,11.3 5.3,10.7 Z" fill="#ff4baa"/>
<path transform="translate(239.9,369.6) scale(1.0166666666666666,1.0454545454545454)" d="M5.3,10.7 C4.4,10 0,7.2 0,3.5 C0,1.4 1.5,0 3.3,0 C4.5,0 5.4,0.5 6,1.3 C6.6,0.5 7.5,0 8.7,0 C10.5,0 12,1.4 12,3.5 C12,7.2 7.6,10 6.7,10.7 Q6,11.3 5.3,10.7 Z" fill="#ff4baa"/>
<path transform="translate(277.9,369.6) scale(1.0166666666666666,1.0454545454545454)" d="M5.3,10.7 C4.4,10 0,7.2 0,3.5 C0,1.4 1.5,0 3.3,0 C4.5,0 5.4,0.5 6,1.3 C6.6,0.5 7.5,0 8.7,0 C10.5,0 12,1.4 12,3.5 C12,7.2 7.6,10 6.7,10.7 Q6,11.3 5.3,10.7 Z" fill="#ff4baa"/>
<path transform="translate(334.9,369.6) scale(1.0166666666666666,1.0454545454545454)" d="M5.3,10.7 C4.4,10 0,7.2 0,3.5 C0,1.4 1.5,0 3.3,0 C4.5,0 5.4,0.5 6,1.3 C6.6,0.5 7.5,0 8.7,0 C10.5,0 12,1.4 12,3.5 C12,7.2 7.6,10 6.7,10.7 Q6,11.3 5.3,10.7 Z" fill="#ff4baa"/>
<path transform="translate(391.9,369.6) scale(1.0166666666666666,1.0454545454545454)" d="M5.3,10.7 C4.4,10 0,7.2 0,3.5 C0,1.4 1.5,0 3.3,0 C4.5,0 5.4,0.5 6,1.3 C6.6,0.5 7.5,0 8.7,0 C10.5,0 12,1.4 12,3.5 C12,7.2 7.6,10 6.7,10.7 Q6,11.3 5.3,10.7 Z" fill="#ff4baa"/>
<path transform="translate(486.9,369.6) scale(1.0166666666666666,1.0454545454545454)" d="M5.3,10.7 C4.4,10 0,7.2 0,3.5 C0,1.4 1.5,0 3.3,0 C4.5,0 5.4,0.5 6,1.3 C6.6,0.5 7.5,0 8.7,0 C10.5,0 12,1.4 12,3.5 C12,7.2 7.6,10 6.7,10.7 Q6,11.3 5.3,10.7 Z" fill="#ff4baa"/>
<path transform="translate(203,411) scale(1)" d="M0,0.2 C3.5,0.6 9.2,3.2 9.2,7.4 C9.2,10.4 7.2,12.2 4.8,12.2 C2.4,12.2 0.8,10.6 0.8,8.8 C0.8,7.6 1.6,6.6 3.9,5.7 C3.6,3.8 1.8,1.6 0,0.2 Z" fill="#78c1f0"/>
<path d="M227.1,410.8 C231.426,410.8 232.25,416.38 232.25,418.488 C232.25,421.712 230.19,423.2 227.1,423.2 C224.01,423.2 221.95,421.712 221.95,418.488 C221.95,416.38 222.774,410.8 227.1,410.8 Z" fill="#78c1f0"/>
<path d="M246.1,410.8 C250.426,410.8 251.25,416.38 251.25,418.488 C251.25,421.712 249.19,423.2 246.1,423.2 C243.01,423.2 240.95,421.712 240.95,418.488 C240.95,416.38 241.774,410.8 246.1,410.8 Z" fill="#78c1f0"/>
<path d="M359.20000000000005,410.1 Q360.1,409.1 361.0,410.1 C361.20000000000005,412.7 362.90000000000003,413.7 364.28,414.97 A5.1,5.1 0 1 1 355.92,414.97 C357.3,413.7 359.0,412.7 359.20000000000005,410.1 Z" fill="#78c1f0"/>
<path d="M435.20000000000005,410.1 Q436.1,409.1 437.0,410.1 C437.20000000000005,412.7 438.90000000000003,413.7 440.28,414.97 A5.1,5.1 0 1 1 431.92,414.97 C433.3,413.7 435.0,412.7 435.20000000000005,410.1 Z" fill="#78c1f0"/>
<path d="M455.1,410.8 C459.42600000000004,410.8 460.25,416.38 460.25,418.488 C460.25,421.712 458.19,423.2 455.1,423.2 C452.01000000000005,423.2 449.95000000000005,421.712 449.95000000000005,418.488 C449.95000000000005,416.38 450.774,410.8 455.1,410.8 Z" fill="#78c1f0"/>
<path transform="translate(469,411) scale(1)" d="M0,0.2 C3.5,0.6 9.2,3.2 9.2,7.4 C9.2,10.4 7.2,12.2 4.8,12.2 C2.4,12.2 0.8,10.6 0.8,8.8 C0.8,7.6 1.6,6.6 3.9,5.7 C3.6,3.8 1.8,1.6 0,0.2 Z" fill="#78c1f0"/>
<path d="M512.1,410.8 C516.426,410.8 517.25,416.38 517.25,418.488 C517.25,421.712 515.19,423.2 512.1,423.2 C509.01000000000005,423.2 506.95000000000005,421.712 506.95000000000005,418.488 C506.95000000000005,416.38 507.774,410.8 512.1,410.8 Z" fill="#78c1f0"/>
<text x="37" y="441" font-size="10" fill="#4d4d4d" text-anchor="middle" font-weight="normal" textLength="10.4" lengthAdjust="spacingAndGlyphs" >11</text>
<text x="56" y="441" font-size="10" fill="#4d4d4d" text-anchor="middle" font-weight="normal" textLength="10.4" lengthAdjust="spacingAndGlyphs" >12</text>
<text x="75" y="441" font-size="10" fill="#4d4d4d" text-anchor="middle" font-weight="normal" textLength="10.4" lengthAdjust="spacingAndGlyphs" >13</text>
<text x="94" y="441" font-size="10" fill="#4d4d4d" text-anchor="middle" font-weight="normal" textLength="10.4" lengthAdjust="spacingAndGlyphs" >14</text>
<text x="113" y="441" font-size="10" fill="#4d4d4d" text-anchor="middle" font-weight="normal" textLength="10.4" lengthAdjust="spacingAndGlyphs" >15</text>
<text x="132" y="441" font-size="10" fill="#ff3366" text-anchor="middle" font-weight="normal" textLength="10.4" lengthAdjust="spacingAndGlyphs" >16</text>
<text x="151" y="441" font-size="10" fill="#ff3366" text-anchor="middle" font-weight="normal" textLength="10.4" lengthAdjust="spacingAndGlyphs" >17</text>
<text x="170" y="441" font-size="10" fill="#4d4d4d" text-anchor="middle" font-weight="normal" textLength="10.4" lengthAdjust="spacingAndGlyphs" >18</text>
<text x="189" y="441" font-size="10" fill="#4d4d4d" text-anchor="middle" font-weight="normal" textLength="10.4" lengthAdjust="spacingAndGlyphs" >19</text>
<text x="208" y="441" font-size="10" fill="#4d4d4d" text-anchor="middle" font-weight="normal" textLength="10.4" lengthAdjust="spacingAndGlyphs" >20</text>
<text x="227" y="441" font-size="10" fill="#4d4d4d" text-anchor="middle" font-weight="normal" textLength="10.4" lengthAdjust="spacingAndGlyphs" >21</text>
<text x="246" y="441" font-size="10" fill="#4d4d4d" text-anchor="middle" font-weight="normal" textLength="10.4" lengthAdjust="spacingAndGlyphs" >22</text>
<text x="265" y="441" font-size="10" fill="#ff3366" text-anchor="middle" font-weight="normal" textLength="10.4" lengthAdjust="spacingAndGlyphs" >23</text>
<text x="284" y="441" font-size="10" fill="#ff3366" text-anchor="middle" font-weight="normal" textLength="10.4" lengthAdjust="spacingAndGlyphs" >24</text>
<text x="303" y="441" font-size="10" fill="#4d4d4d" text-anchor="middle" font-weight="normal" textLength="10.4" lengthAdjust="spacingAndGlyphs" >25</text>
<text x="322" y="441" font-size="10" fill="#4d4d4d" text-anchor="middle" font-weight="normal" textLength="10.4" lengthAdjust="spacingAndGlyphs" >26</text>
<text x="341" y="441" font-size="10" fill="#4d4d4d" text-anchor="middle" font-weight="normal" textLength="10.4" lengthAdjust="spacingAndGlyphs" >27</text>
<text x="360" y="441" font-size="10" fill="#4d4d4d" text-anchor="middle" font-weight="normal" textLength="10.4" lengthAdjust="spacingAndGlyphs" >28</text>
<text x="379" y="441" font-size="10" fill="#4d4d4d" text-anchor="middle" font-weight="normal" textLength="10.4" lengthAdjust="spacingAndGlyphs" >29</text>
<text x="398" y="441" font-size="10" fill="#ff3366" text-anchor="middle" font-weight="normal" textLength="10.4" lengthAdjust="spacingAndGlyphs" >30</text>
<text x="417" y="441" font-size="10" fill="#ff3366" text-anchor="middle" font-weight="normal" textLength="10.4" lengthAdjust="spacingAndGlyphs" >01</text>
<text x="436" y="441" font-size="10" fill="#4d4d4d" text-anchor="middle" font-weight="normal" textLength="10.4" lengthAdjust="spacingAndGlyphs" >02</text>
<text x="455" y="441" font-size="10" fill="#4d4d4d" text-anchor="middle" font-weight="normal" textLength="10.4" lengthAdjust="spacingAndGlyphs" >03</text>
<text x="474" y="441" font-size="10" fill="#4d4d4d" text-anchor="middle" font-weight="normal" textLength="10.4" lengthAdjust="spacingAndGlyphs" >04</text>
<text x="493" y="441" font-size="10" fill="#4d4d4d" text-anchor="middle" font-weight="normal" textLength="10.4" lengthAdjust="spacingAndGlyphs" >05</text>
<text x="512" y="441" font-size="10" fill="#4d4d4d" text-anchor="middle" font-weight="normal" textLength="10.4" lengthAdjust="spacingAndGlyphs" >06</text>
<text x="531" y="441" font-size="10" fill="#ff3366" text-anchor="middle" font-weight="normal" textLength="10.4" lengthAdjust="spacingAndGlyphs" >07</text>
<rect x="541" y="427" width="18" height="19" fill="#93d9f4" />
<path d="M548,446 l2.5,-2.2 l2.5,2.2 Z" fill="#fff"/>
<text x="549" y="440" font-size="11" fill="#4d4d4d" text-anchor="middle" font-weight="normal" textLength="11.4" lengthAdjust="spacingAndGlyphs" >08</text>
<text x="569" y="441" font-size="10" fill="#4d4d4d" text-anchor="middle" font-weight="normal" textLength="10.4" lengthAdjust="spacingAndGlyphs" >09</text>
<text x="588" y="441" font-size="10" fill="#4d4d4d" text-anchor="middle" font-weight="normal" textLength="10.4" lengthAdjust="spacingAndGlyphs" >10</text>
<text x="607" y="441" font-size="10" fill="#4d4d4d" text-anchor="middle" font-weight="normal" textLength="10.4" lengthAdjust="spacingAndGlyphs" >11</text>
<rect x="407" y="429" width="1" height="29" fill="#555" />
<rect x="27" y="458" width="590" height="1" fill="#e9e9e9" />
<text x="28.5" y="456.5" font-size="11" fill="#666" text-anchor="start" font-weight="normal" textLength="46.5" lengthAdjust="spacingAndGlyphs" >Сентябрь</text>
<text x="412.3" y="456.5" font-size="11" fill="#666" text-anchor="start" font-weight="normal" textLength="40.6" lengthAdjust="spacingAndGlyphs" >Октябрь</text>
<text x="31.5" y="489.3" font-size="11.3" fill="#1c1c1c" text-anchor="start" font-weight="bold" textLength="69" lengthAdjust="spacingAndGlyphs" >Менструация</text>
<text x="185.3" y="489.3" font-size="11.3" fill="#1c1c1c" text-anchor="start" font-weight="bold" textLength="91.3" lengthAdjust="spacingAndGlyphs" >Тест на овуляцию</text>
<text x="315.3" y="489.3" font-size="11.3" fill="#1c1c1c" text-anchor="start" font-weight="bold" textLength="113.3" lengthAdjust="spacingAndGlyphs" >Тест на беременность</text>
<text x="471.5" y="489.3" font-size="11.3" fill="#1c1c1c" text-anchor="start" font-weight="bold" textLength="127.3" lengthAdjust="spacingAndGlyphs" >Цервикальная жидкость</text>
<path d="M38.6,497.8 C39.5,500.748 43.25,503.0625 43.25,506.55 A4.65,4.65 0 1 1 33.95,506.55 C33.95,503.0625 37.7,500.748 38.6,497.8 Z" fill="#ff4648"/>
<text x="51.4" y="509" font-size="11.3" fill="#2c2c2c" text-anchor="start" font-weight="normal" textLength="62.4" lengthAdjust="spacingAndGlyphs" >Менструация</text>
<path d="M38.5,521.0 C39.4,523.2 41.6,525.5749999999999 41.6,527.9 A3.1,3.1 0 1 1 35.4,527.9 C35.4,525.5749999999999 37.6,523.2 38.5,521.0 Z" fill="#ff4648"/>
<text x="51.4" y="530" font-size="11.3" fill="#2c2c2c" text-anchor="start" font-weight="normal" textLength="109.6" lengthAdjust="spacingAndGlyphs" >Небольшие выделения</text>
<circle cx="192" cy="505" r="7.1" fill="#ffd54a"/>
<text x="205.3" y="509" font-size="11.3" fill="#2c2c2c" text-anchor="start" font-weight="normal" textLength="76.7" lengthAdjust="spacingAndGlyphs" >Положительный</text>
<circle cx="192" cy="526" r="6.5" fill="#fff" stroke="#ffd54a" stroke-width="1.2"/>
<text x="205.3" y="530" font-size="11.3" fill="#2c2c2c" text-anchor="start" font-weight="normal" textLength="74.6" lengthAdjust="spacingAndGlyphs" >Отрицательный</text>
<rect x="317" y="498" width="3" height="13" fill="#8dc014" rx="1.5" ry="1.5" style="shape-rendering:auto"/>
<rect x="325" y="498" width="3" height="13" fill="#8dc014" rx="1.5" ry="1.5" style="shape-rendering:auto"/>
<text x="335.3" y="509" font-size="11.3" fill="#2c2c2c" text-anchor="start" font-weight="normal" textLength="76.7" lengthAdjust="spacingAndGlyphs" >Положительный</text>
<rect x="321" y="519" width="3" height="13" fill="#8dc014" rx="1.5" ry="1.5" style="shape-rendering:auto"/>
<text x="335.3" y="530" font-size="11.3" fill="#2c2c2c" text-anchor="start" font-weight="normal" textLength="74.6" lengthAdjust="spacingAndGlyphs" >Отрицательный</text>
<rect x="317" y="539" width="3" height="13" fill="#8dc014" rx="1.5" ry="1.5" style="shape-rendering:auto"/>
<rect x="325" y="539" width="3" height="13" fill="#d6e9ac" rx="1.5" ry="1.5" style="shape-rendering:auto"/>
<text x="335.3" y="550" font-size="11.3" fill="#2c2c2c" text-anchor="start" font-weight="normal" textLength="104" lengthAdjust="spacingAndGlyphs" >Слабоположительный</text>
<path d="M479.5,502.29999999999995 C480.4,504.544 483.65,505.2375 483.65,508.35 A4.15,4.15 0 1 1 475.35,508.35 C475.35,505.2375 478.6,504.544 479.5,502.29999999999995 Z" fill="#fff" stroke="#78c1f0" stroke-width="1"/>
<text x="492.5" y="511.6" font-size="11.3" fill="#2c2c2c" text-anchor="start" font-weight="normal" textLength="22" lengthAdjust="spacingAndGlyphs" >Сухо</text>
<path transform="translate(475.90000000000003,523.0)" d="M0,0 H7.4 V0.7 C6.6,2 4.7,2.8 4.5,4.1 V6.7 C4.7,8 6.6,8.8 7.4,10.1 V10.8 H0 V10.1 C0.8,8.8 2.7,8 2.9,6.7 V4.1 C2.7,2.8 0.8,2 0,0.7 Z" fill="#78c1f0"/>
<text x="492.5" y="532" font-size="11.3" fill="#2c2c2c" text-anchor="start" font-weight="normal" textLength="39" lengthAdjust="spacingAndGlyphs" >Клейкая</text>
<path transform="translate(475.1,543.17) scale(0.93)" d="M0,0.2 C3.5,0.6 9.2,3.2 9.2,7.4 C9.2,10.4 7.2,12.2 4.8,12.2 C2.4,12.2 0.8,10.6 0.8,8.8 C0.8,7.6 1.6,6.6 3.9,5.7 C3.6,3.8 1.8,1.6 0,0.2 Z" fill="#78c1f0"/>
<text x="492.5" y="552.2" font-size="11.3" fill="#2c2c2c" text-anchor="start" font-weight="normal" textLength="75.4" lengthAdjust="spacingAndGlyphs" >Кремообразная</text>
<path d="M478.6,560.6 Q479.5,559.6 480.4,560.6 C480.6,563.0814814814814 482.1962962962963,564.0444444444445 483.27,565.76 A4.6,4.6 0 1 1 475.73,565.76 C476.8037037037037,564.0444444444445 478.4,563.0814814814814 478.6,560.6 Z" fill="#78c1f0"/>
<text x="492.5" y="572.4" font-size="11.3" fill="#2c2c2c" text-anchor="start" font-weight="normal" textLength="54.4" lengthAdjust="spacingAndGlyphs" >Водянистая</text>
<path d="M479.5,580.95 C483.364,580.95 484.1,586.395 484.1,588.452 C484.1,591.598 482.26,593.05 479.5,593.05 C476.74,593.05 474.9,591.598 474.9,588.452 C474.9,586.395 475.636,580.95 479.5,580.95 Z" fill="#78c1f0"/>
<text x="492.5" y="592.4" font-size="11.3" fill="#2c2c2c" text-anchor="start" font-weight="normal" textLength="67.2" lengthAdjust="spacingAndGlyphs" >Яичный белок</text>
<path transform="translate(30.900000000000002,581.6999999999999) scale(1.1166666666666667,1.1090909090909091)" d="M5.3,10.7 C4.4,10 0,7.2 0,3.5 C0,1.4 1.5,0 3.3,0 C4.5,0 5.4,0.5 6,1.3 C6.6,0.5 7.5,0 8.7,0 C10.5,0 12,1.4 12,3.5 C12,7.2 7.6,10 6.7,10.7 Q6,11.3 5.3,10.7 Z" fill="#ff4baa"/>
<text x="51" y="592" font-size="11.3" fill="#2c2c2c" text-anchor="start" font-weight="normal" textLength="60" lengthAdjust="spacingAndGlyphs" >Половой акт</text>
<circle cx="139" cy="588" r="7.1" fill="#c9c9c9"/><line x1="136" y1="591.3" x2="142" y2="584.5" stroke="#fff" stroke-width="1.8" stroke-linecap="round"/>
<text x="152" y="592" font-size="11.3" fill="#2c2c2c" text-anchor="start" font-weight="normal" textLength="76" lengthAdjust="spacingAndGlyphs" >Прием лекарств</text>
<path transform="translate(259,587.9)" d="M-2.43,-6.72 A7.15,7.15 0 1 0 6.72,2.43 A7.01,7.01 0 0 1 -2.43,-6.72 Z" fill="#f7941d"/>
<text x="271.6" y="592" font-size="11.3" fill="#2c2c2c" text-anchor="start" font-weight="normal" textLength="89.3" lengthAdjust="spacingAndGlyphs" >Лунный календарь</text>
</svg>
</body></html>
